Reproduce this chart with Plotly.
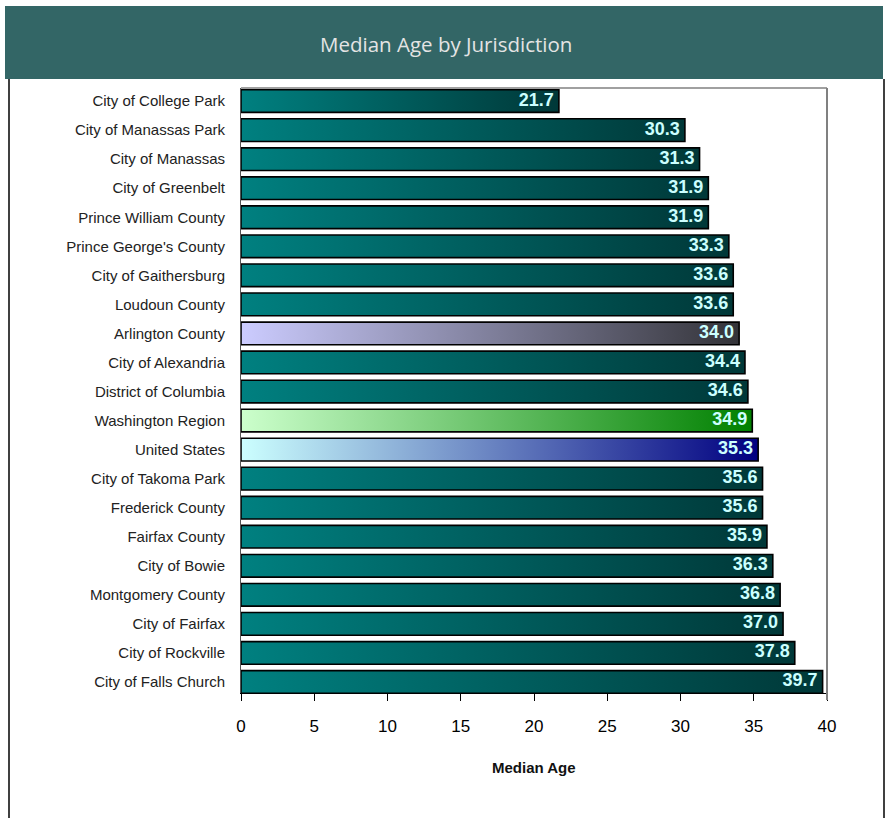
import plotly.graph_objects as go

categories = [
    "City of College Park", "City of Manassas Park", "City of Manassas",
    "City of Greenbelt", "Prince William County", "Prince George's County",
    "City of Gaithersburg", "Loudoun County", "Arlington County",
    "City of Alexandria", "District of Columbia", "Washington Region",
    "United States", "City of Takoma Park", "Frederick County",
    "Fairfax County", "City of Bowie", "Montgomery County",
    "City of Fairfax", "City of Rockville", "City of Falls Church",
]
median_age = [21.7, 30.3, 31.3, 31.9, 31.9, 33.3, 33.6, 33.6, 34.0, 34.4,
              34.6, 34.9, 35.3, 35.6, 35.6, 35.9, 36.3, 36.8, 37.0, 37.8, 39.7]
x_ticks = [0, 5, 10, 15, 20, 25, 30, 35, 40]

# gradient styles (left colour, right colour)
default_grad = ("#008080", "#003838")
special_grad = {
    "Arlington County": ("#ccccff", "#333338"),
    "Washington Region": ("#ccffcc", "#008000"),
    "United States": ("#ccffff", "#000080"),
}

W, H = 888, 818
L, R, T, B = 241, 827, 88, 693
half = 0.39

fig = go.Figure()
ypos = list(range(len(categories)))
for i, (cat, v) in enumerate(zip(categories, median_age)):
    c0, c1 = special_grad.get(cat, default_grad)
    fig.add_trace(go.Scatter(
        x=[0, v, v, 0, 0],
        y=[i - half, i - half, i + half, i + half, i - half],
        mode="lines", fill="toself",
        fillgradient=dict(type="horizontal", colorscale=[[0, c0], [1, c1]]),
        line=dict(color="#000000", width=1.6),
        hoverinfo="skip", showlegend=False,
    ))

fig.add_trace(go.Scatter(
    x=median_age, y=ypos, mode="text",
    text=[f"{v:.1f} " for v in median_age],
    textposition="middle left",
    textfont=dict(family="Arial, Liberation Sans", size=18, color="#ccffff", weight="bold"),
    hoverinfo="skip", showlegend=False,
))

def px(xp):
    return (xp - L) / (R - L)

def py(yp):
    return (B - yp) / (B - T)

shapes = [
    # banner
    dict(type="rect", xref="paper", yref="paper", x0=px(5), x1=px(883), y0=py(79), y1=py(6),
         fillcolor="#336666", line=dict(width=0), layer="below"),
    # page frame lines
    dict(type="line", xref="paper", yref="paper", x0=px(9), x1=px(9), y0=py(79), y1=py(818),
         line=dict(color="#000000", width=1.5)),
    dict(type="line", xref="paper", yref="paper", x0=px(884), x1=px(884), y0=py(79), y1=py(818),
         line=dict(color="#000000", width=1.5)),
    # plot frame top/right
    dict(type="line", xref="paper", yref="paper", x0=0, x1=1, y0=1, y1=1,
         line=dict(color="#808080", width=1.5)),
    dict(type="line", xref="paper", yref="paper", x0=1, x1=1, y0=1, y1=py(700),
         line=dict(color="#808080", width=2)),
]

fig.update_layout(
    width=W, height=H,
    margin=dict(l=L, r=W - R, t=T, b=H - B),
    paper_bgcolor="#ffffff", plot_bgcolor="#ffffff",
    shapes=shapes,
    annotations=[
        dict(text="Median Age by Jurisdiction", xref="paper", yref="paper",
             x=px(446), y=py(44), showarrow=False, xanchor="center", yanchor="middle",
             font=dict(family="Open Sans", size=20.5, color="#e4e4e4")),
        dict(text="<b>Median Age</b>", xref="paper", yref="paper",
             x=px(534), y=py(767), showarrow=False, xanchor="center", yanchor="middle",
             font=dict(family="Arial, Liberation Sans", size=15, color="#111111")),
    ],
    xaxis=dict(range=[0, 40], tickvals=x_ticks, showgrid=False, zeroline=False,
               showline=True, linecolor="#000000", linewidth=1,
               ticks="outside", ticklen=7, tickcolor="#000000",
               ticklabelstandoff=11,
               tickfont=dict(family="Arial, Liberation Sans", size=17, color="#000000")),
    yaxis=dict(range=[20.38, -0.45], tickvals=ypos, ticktext=categories,
               showgrid=False, zeroline=False, showline=True, linecolor="#555555",
               linewidth=1, ticks="", ticklabelstandoff=12,
               tickfont=dict(family="Arial, Liberation Sans", size=15, color="#222222")),
)

fig.write_html("out.html", config={"displayModeBar": False},
               post_script="document.body.style.margin='0';")
